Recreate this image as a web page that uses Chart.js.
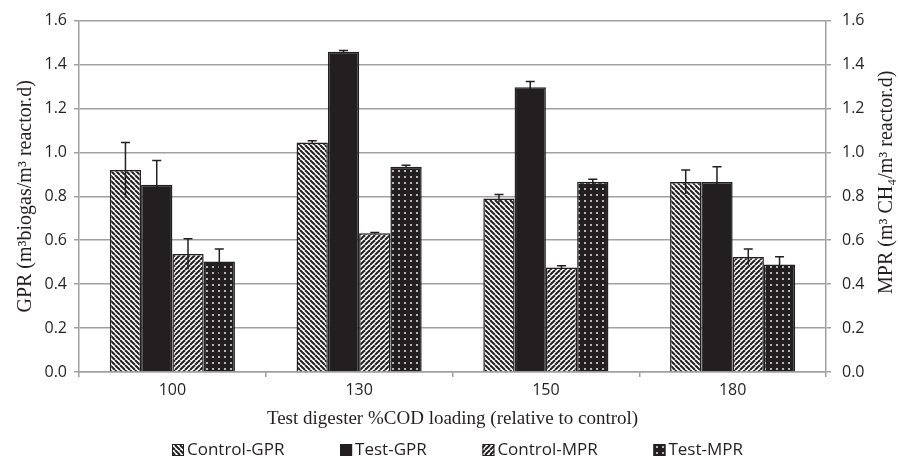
<!DOCTYPE html>
<html>
<head>
<meta charset="utf-8">
<script src="https://cdn.jsdelivr.net/npm/chart.js@4"></script>
<style>
  html, body { margin: 0; padding: 0; background: #fff; }
</style>
</head>
<body>
<canvas id="chart" width="898" height="458"></canvas>
<script>
const categories = ["100", "130", "150", "180"];
const controlGPR = [0.92, 1.045, 0.79, 0.865];
const controlGPRErr = [0.125, 0.008, 0.018, 0.055];
const testGPR = [0.853, 1.458, 1.297, 0.865];
const testGPRErr = [0.11, 0.006, 0.026, 0.07];
const controlMPR = [0.537, 0.632, 0.476, 0.524];
const controlMPRErr = [0.07, 0.003, 0.008, 0.036];
const testMPR = [0.503, 0.935, 0.866, 0.49];
const testMPRErr = [0.057, 0.006, 0.012, 0.035];
const yTicks = [0, 0.2, 0.4, 0.6, 0.8, 1.0, 1.2, 1.4, 1.6];

const INK = "#231f20";
const GRID = "#a0a0a0";

function stripes(back) {
  const s = 5;
  const c = document.createElement("canvas");
  c.width = s; c.height = s;
  const g = c.getContext("2d");
  g.fillStyle = "#fff";
  g.fillRect(0, 0, s, s);
  g.strokeStyle = INK;
  g.lineWidth = 2;
  for (let k = -1; k <= 1; k++) {
    g.beginPath();
    if (back) { g.moveTo(k * s, 0); g.lineTo(k * s + s, s); }
    else { g.moveTo(k * s, s); g.lineTo(k * s + s, 0); }
    g.stroke();
  }
  return g.createPattern(c, "repeat");
}

function dots() {
  const c = document.createElement("canvas");
  c.width = 6; c.height = 6;
  const g = c.getContext("2d");
  g.fillStyle = INK;
  g.fillRect(0, 0, 6, 6);
  g.fillStyle = "#b8b8b8";
  g.fillRect(2, 2, 2, 2);
  return g.createPattern(c, "repeat");
}

const errorBars = {
  id: "errorBars",
  afterDatasetsDraw(chart) {
    const ctx = chart.ctx;
    ctx.save();
    ctx.strokeStyle = INK;
    ctx.lineWidth = 1.5;
    chart.data.datasets.forEach((ds, i) => {
      const meta = chart.getDatasetMeta(i);
      const scale = chart.scales[ds.yAxisID];
      meta.data.forEach((bar, j) => {
        const v = ds.data[j], e = ds.errors[j];
        const top = scale.getPixelForValue(v + e);
        const bot = scale.getPixelForValue(v - e);
        ctx.beginPath();
        ctx.moveTo(bar.x, bot);
        ctx.lineTo(bar.x, top);
        ctx.moveTo(bar.x - 4.5, top);
        ctx.lineTo(bar.x + 4.5, top);
        ctx.stroke();
      });
    });
    ctx.restore();
  }
};

// side titles and the bottom legend row
const extras = {
  id: "extras",
  afterDraw(chart) {
    const ctx = chart.ctx;
    const a = chart.chartArea;
    const mid = (a.top + a.bottom) / 2;
    ctx.save();
    ctx.fillStyle = INK;
    ctx.font = "20px 'Liberation Serif'";
    ctx.textAlign = "center";
    ctx.textBaseline = "middle";
    ctx.translate(26, mid);
    ctx.rotate(-Math.PI / 2);
    ctx.fillText("GPR (m³biogas/m³ reactor.d)", 0, 0);
    ctx.restore();
    ctx.save();
    ctx.fillStyle = INK;
    ctx.font = "20px 'Liberation Serif'";
    ctx.textAlign = "center";
    ctx.textBaseline = "middle";
    ctx.translate(887, mid - 14);
    ctx.rotate(-Math.PI / 2);
    ctx.fillText("MPR (m³ CH₄/m³ reactor.d)", 0, 0);
    ctx.restore();

    ctx.save();
    ctx.font = "17px 'Open Sans'";
    ctx.textBaseline = "middle";
    ctx.textAlign = "left";
    const y = 450, left = 172, right = 743;
    const sets = chart.data.datasets;
    const used = sets.reduce((t, ds) => t + 15 + ctx.measureText(ds.label).width, 0);
    const gap = (right - left - used) / (sets.length - 1);
    let x = left;
    sets.forEach(ds => {
      ctx.fillStyle = ds.backgroundColor;
      ctx.fillRect(x, y - 6, 12, 12);
      ctx.strokeStyle = INK;
      ctx.lineWidth = 1;
      ctx.strokeRect(x + 0.5, y - 5.5, 11, 11);
      ctx.fillStyle = INK;
      ctx.fillText(ds.label, x + 15, y);
      x += 15 + ctx.measureText(ds.label).width + gap;
    });
    ctx.restore();
  }
};

const tickFont = { family: "'Open Sans'", size: 16 };

new Chart(document.getElementById("chart"), {
  type: "bar",
  data: {
    labels: categories,
    datasets: [
      { label: "Control-GPR", data: controlGPR, errors: controlGPRErr, yAxisID: "y", backgroundColor: stripes(true) },
      { label: "Test-GPR", data: testGPR, errors: testGPRErr, yAxisID: "y", backgroundColor: INK },
      { label: "Control-MPR", data: controlMPR, errors: controlMPRErr, yAxisID: "y1", backgroundColor: stripes(false) },
      { label: "Test-MPR", data: testMPR, errors: testMPRErr, yAxisID: "y1", backgroundColor: dots() }
    ].map(d => Object.assign(d, {
      borderColor: INK,
      borderWidth: 1.5,
      barPercentage: 1,
      categoryPercentage: 0.67
    }))
  },
  options: {
    responsive: false,
    animation: false,
    layout: { padding: { top: 10, left: 0, right: 0, bottom: 28 } },
    plugins: {
      tooltip: { enabled: false },
      legend: { display: false }
    },
    scales: {
      x: {
        grid: { drawOnChartArea: false, color: GRID, lineWidth: 1.5, tickLength: 5 },
        border: { color: GRID, width: 1.5 },
        ticks: { color: INK, font: tickFont, padding: 4 },
        title: {
          display: true,
          text: "Test digester %COD loading (relative to control)",
          color: INK,
          font: { family: "'Liberation Serif'", size: 19 },
          padding: { top: 3, bottom: 0 }
        }
      },
      y: {
        position: "left",
        min: 0, max: 1.6,
        afterBuildTicks: s => { s.ticks = yTicks.map(v => ({ value: v })); },
        afterFit: s => { s.width = 79; },
        grid: { color: GRID, lineWidth: 1.5, tickLength: 5 },
        border: { color: GRID, width: 1.5 },
        ticks: { color: INK, font: tickFont, padding: 7, callback: v => v.toFixed(1) }
      },
      y1: {
        position: "right",
        min: 0, max: 1.6,
        afterBuildTicks: s => { s.ticks = yTicks.map(v => ({ value: v })); },
        afterFit: s => { s.width = 72; },
        grid: { drawOnChartArea: false, color: GRID, lineWidth: 1.5, tickLength: 5 },
        border: { color: GRID, width: 1.5 },
        ticks: { color: INK, font: tickFont, padding: 11, callback: v => v.toFixed(1) }
      }
    }
  },
  plugins: [errorBars, extras]
});
</script>
</body>
</html>
